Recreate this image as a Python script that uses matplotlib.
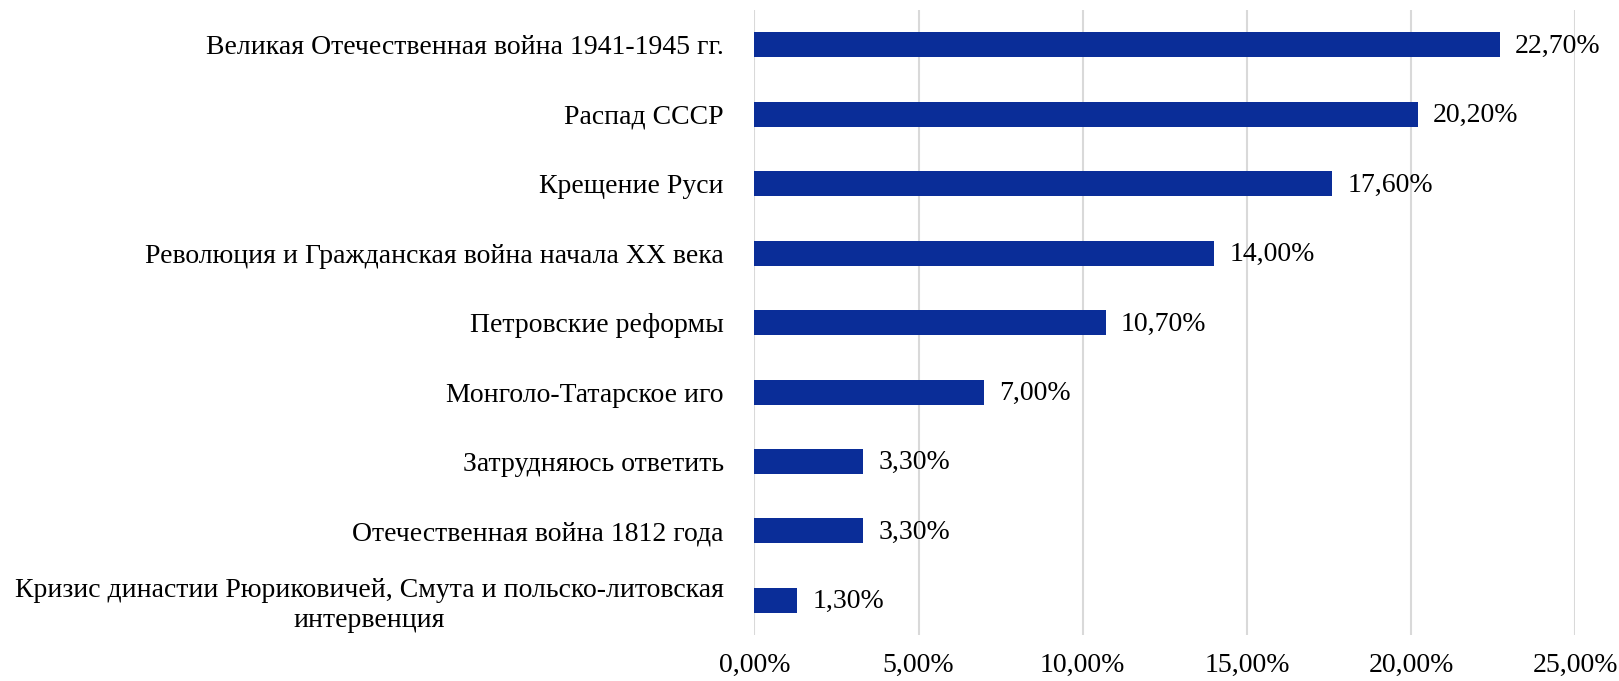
import matplotlib.pyplot as plt

plt.rcParams['font.family'] = ['Liberation Serif', 'DejaVu Serif']

categories = [
    "Великая Отечественная война 1941-1945 гг.",
    "Распад СССР",
    "Крещение Руси",
    "Революция и Гражданская война начала XX века",
    "Петровские реформы",
    "Монголо-Татарское иго",
    "Затрудняюсь ответить",
    "Отечественная война 1812 года",
    "Кризис династии Рюриковичей, Смута и польско-литовская\nинтервенция",
]
values = [22.7, 20.2, 17.6, 14.0, 10.7, 7.0, 3.3, 3.3, 1.3]
xticks = [0, 5, 10, 15, 20, 25]

def pct(v):
    return ("%.2f%%" % v).replace(".", ",")

fig = plt.figure(figsize=(16.19, 6.81), dpi=100)
ax = fig.add_axes([0.466, 0.0675, 0.507, 0.9175])

pos = list(range(len(categories)))[::-1]
ax.barh(pos, values, height=0.36, color='#0a2d98', zorder=3)

for p, v in zip(pos, values):
    ax.annotate(pct(v), (v, p), xytext=(11, -1), textcoords='offset points',
                va='center', ha='left', fontsize=20)

ax.set_xlim(0, 25)
ax.set_ylim(-0.5, len(categories) - 0.5)
ax.set_xticks(xticks)
ax.set_xticklabels([pct(x) for x in xticks], fontsize=20)
ax.set_yticks(pos)
ax.set_yticklabels(categories, fontsize=20, multialignment='center', linespacing=1.25)
ax.tick_params(length=0)
ax.tick_params(axis='y', pad=22)
ax.tick_params(axis='x', pad=13)
ax.grid(axis='x', color='#d9d9d9', linewidth=1.5, zorder=0)
for s in ax.spines.values():
    s.set_visible(False)

fig.savefig('out.png', dpi=100)
